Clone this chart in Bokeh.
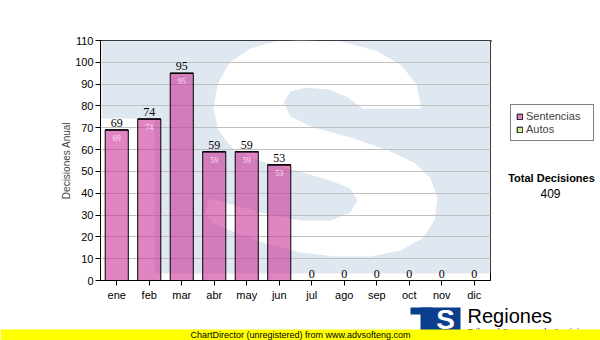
from bokeh.plotting import figure
from bokeh.layouts import column, row
from bokeh.models import (ColumnDataSource, Range1d, Legend, LegendItem,
                          LabelSet, FixedTicker)
from bokeh.core.properties import value
from bokeh.embed import file_html
from bokeh.resources import INLINE

# ---- data ----
months = ["ene", "feb", "mar", "abr", "may", "jun", "jul", "ago", "sep", "oct", "nov", "dic"]
sentencias = [69, 74, 95, 59, 59, 53, 0, 0, 0, 0, 0, 0]
autos = [0, 0, 0, 0, 0, 0, 0, 0, 0, 0, 0, 0]
y_ticks = [0, 10, 20, 30, 40, 50, 60, 70, 80, 90, 100, 110]
series_names = ["Sentencias", "Autos"]
series_colors = ["#cc3399", "#d6eba0"]
series_alpha = [0.6, 1.0]
y_title = "Decisiones Anual"
total_title = "Total Decisiones"
footer_text = "ChartDirector (unregistered) from www.advsofteng.com"
brand_text = "Regiones"
brand_sub = "Tribunal Supremo de Justicia"

# watermark (decorative background, canvas pixel coordinates)
wm_base_x = [101, 490, 490, 154, 154, 101]
wm_base_y = [40, 40, 273, 273, 118, 118]
wm_s_x = [300, 340, 375, 400, 416, 421,
          362, 348, 328, 305, 290, 283, 290, 310,
          350, 388, 415, 430, 437, 434, 422, 400, 370, 335, 300, 265, 235, 212,
          205, 208,
          235, 268, 300, 330, 350, 357, 350, 330,
          295, 258, 232, 218, 213, 217, 229, 250, 275]
wm_s_y = [40, 41, 50, 64, 84, 108,
          108, 97, 89, 87, 91, 102, 116, 126,
          137, 150, 163, 178, 198, 220, 238, 250, 256, 256, 252, 243, 232, 222,
          212, 198,
          205, 214, 220, 220, 212, 200, 188, 180,
          170, 160, 148, 130, 108, 84, 62, 48, 41]

FONT = "Liberation Sans"
BLUE = "#0b3f8e"

xpos = [i + 0.5 for i in range(len(months))]
totals = [s + a for s, a in zip(sentencias, autos)]
src = ColumnDataSource(dict(x=xpos, s=sentencias, st=totals,
                            lab=[str(t) for t in totals]))
inner_idx = [i for i, v in enumerate(sentencias) if v > 0]
src_in = ColumnDataSource(dict(x=[xpos[i] for i in inner_idx],
                               s=[sentencias[i] for i in inner_idx],
                               lab=[str(sentencias[i]) for i in inner_idx]))

# ---------------- main chart ----------------
p = figure(x_range=Range1d(0, len(months)), y_range=Range1d(0, 110),
           width=491, height=305, output_backend="svg", toolbar_location=None,
           min_border_left=100, min_border_right=1, min_border_top=40,
           min_border_bottom=25)
p.background_fill_color = "white"
p.border_fill_color = "white"
p.outline_line_color = "black"
p.outline_line_width = 1

p.extra_x_ranges = {"wm": Range1d(100, 490)}
p.extra_y_ranges = {"wm": Range1d(280, 40)}
p.patch(wm_base_x, wm_base_y, fill_color="#dfe8f1", line_color=None,
        x_range_name="wm", y_range_name="wm", level="image")
p.patch(wm_s_x, wm_s_y, fill_color="white", line_color=None,
        x_range_name="wm", y_range_name="wm", level="image")

p.vbar(x="x", top="s", width=0.71, source=src, fill_color=series_colors[0],
       fill_alpha=series_alpha[0], line_color="black", line_width=1)
p.vbar(x="x", bottom="s", top="st", width=0.71, source=src,
       fill_color=series_colors[1], fill_alpha=series_alpha[1],
       line_color="black", line_width=1)

p.add_layout(LabelSet(x="x", y="st", text="lab", source=src, y_offset=3,
                      text_align="center", text_baseline="alphabetic",
                      text_font=FONT, text_font_size="12px", text_color="black"))
p.add_layout(LabelSet(x="x", y="s", text="lab", source=src_in, y_offset=-5,
                      text_align="center", text_baseline="top",
                      text_font=FONT, text_font_size="8px", text_color="#fbe2f3"))

p.xgrid.visible = False
p.ygrid.ticker = FixedTicker(ticks=y_ticks)
p.ygrid.grid_line_color = "#c0c0c0"
p.yaxis.ticker = FixedTicker(ticks=y_ticks)
p.xaxis.ticker = FixedTicker(ticks=xpos)
p.xaxis.major_label_overrides = {x: m for x, m in zip(xpos, months)}
for ax in (p.xaxis[0], p.yaxis[0]):
    ax.axis_line_color = "black"
    ax.major_tick_line_color = "black"
    ax.major_tick_in = 0
    ax.major_tick_out = 5
    ax.minor_tick_line_color = None
    ax.major_label_text_font = FONT
    ax.major_label_text_font_size = "11px"
    ax.major_label_text_color = "black"
p.xaxis.major_label_standoff = 3
p.yaxis.major_label_standoff = 2
p.yaxis.axis_label = y_title
p.yaxis.axis_label_text_font = FONT
p.yaxis.axis_label_text_font_size = "10px"
p.yaxis.axis_label_text_font_style = "normal"
p.yaxis.axis_label_standoff = 0


def blank(w, h, xr, yr):
    f = figure(width=w, height=h, x_range=Range1d(*xr), y_range=Range1d(*yr),
               output_backend="svg", toolbar_location=None,
               x_axis_location=None, y_axis_location=None,
               min_border=0, min_border_left=0, min_border_right=0,
               min_border_top=0, min_border_bottom=0)
    f.outline_line_color = None
    f.background_fill_color = "white"
    f.border_fill_color = "white"
    for g in f.grid:
        g.visible = False
    return f


# ---------------- right side: legend and total ----------------
side = blank(109, 305, (491, 600), (305, 0))
# legend proxies (kept outside the visible range)
lr = [side.vbar(x=[-100], top=[1], width=1, fill_color=c, fill_alpha=a,
                line_color="black")
      for c, a in zip(series_colors, series_alpha)]
legend = Legend(items=[LegendItem(label=n, renderers=[r]) for n, r in zip(series_names, lr)],
                location=(19, 139), orientation="vertical",
                border_line_color="black", border_line_width=1,
                background_fill_color="white", background_fill_alpha=1,
                label_text_font=FONT, label_text_font_size="11px",
                glyph_width=7, glyph_height=7, label_height=12, label_standoff=3,
                label_width=62, spacing=1, padding=5, margin=0)
side.add_layout(legend)
total = sum(totals)
side.text(x=[551], y=[175], text=[total_title], text_align="center",
          text_baseline="middle", text_font=value(FONT), text_font_size="11px",
          text_font_style="bold", text_color="black")
side.text(x=[550], y=[195], text=[str(total)], text_align="center",
          text_baseline="middle", text_font=value(FONT), text_font_size="12px",
          text_color="black")

# ---------------- bottom: logo and footer ----------------
bot = blank(600, 35, (0, 600), (340, 305))
bot.quad(left=[410], right=[432], top=[307], bottom=[314], fill_color=BLUE, line_color=None)
bot.quad(left=[420], right=[460], top=[307], bottom=[331], fill_color=BLUE, line_color=None)
bot.text(x=[445], y=[319], text=["S"], text_align="center", text_baseline="middle",
         text_font=value(FONT), text_font_size="28px", text_font_style="bold",
         text_color="white")
bot.text(x=[467], y=[315], text=[brand_text], text_align="left",
         text_baseline="middle", text_font=value(FONT), text_font_size="20px",
         text_color="black")
bot.text(x=[467], y=[326], text=[brand_sub], text_align="left",
         text_baseline="top", text_font=value(FONT), text_font_size="9px",
         text_color="#222222")
bot.quad(left=[0], right=[600], top=[329], bottom=[340], fill_color="#ffff00", line_color=None)
bot.text(x=[300], y=[334.5], text=[footer_text], text_align="center",
         text_baseline="middle", text_font=value(FONT), text_font_size="9px",
         text_color="black")

layout = column(row(p, side), bot)
open("out.html", "w").write(file_html(layout, INLINE))
